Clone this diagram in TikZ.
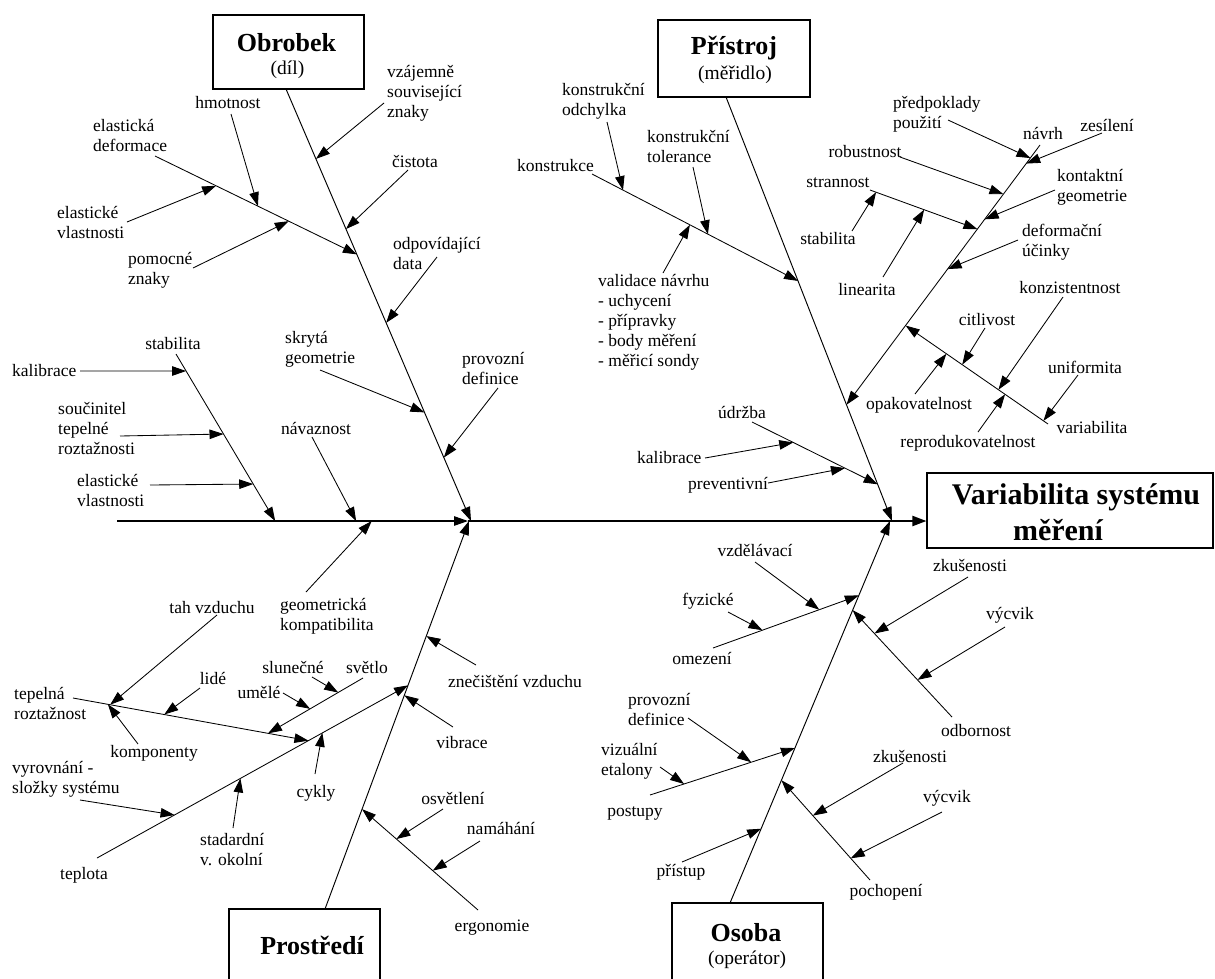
\documentclass[tikz,border=0pt]{standalone}
\usepackage{fontspec}
\setmainfont{Liberation Serif}
\usetikzlibrary{arrows.meta}
\tikzset{
 lbl/.style={font=\fontsize{17.5}{20}\selectfont, inner sep=0pt, align=left},
 arr/.style={line width=0.85pt, -{Triangle[length=14pt,width=9.5pt]}},
 bonearr/.style={line width=0.95pt, -{Triangle[length=14pt,width=9.5pt]}},
 box/.style={draw, line width=1.1pt, inner sep=0pt},
 ttl/.style={font=\fontsize{26}{30}\selectfont\bfseries, inner sep=0pt},
 subt/.style={font=\fontsize{19.5}{22}\selectfont, inner sep=0pt},
 bigttl/.style={font=\fontsize{30}{33}\selectfont\bfseries, inner sep=0pt},
}
\newcommand\twig[4]{%
  \coordinate (#1s) at (#2);
  \coordinate (#1e) at (intersection of #4 and #1s--#3);
  \draw[arr] (#1s) -- (#1e);}
\begin{document}
\begin{tikzpicture}[x=1pt,y=-1pt]
\useasboundingbox (0,0) rectangle (1215,978);
\fill[white] (0,0) rectangle (1215,978);

% ---- boxes
\node[box, minimum width=151pt, minimum height=74pt] (obrobek) at (288.5,52) {};
\node[ttl] (obrobekT) at (286.5,43) {Obrobek};
\node[subt] (obrobekS) at (287.5,70) {(díl)};
\node[box, minimum width=152pt, minimum height=77pt] (pristroj) at (734,58.5) {};
\node[ttl] (pristrojT) at (734,48) {Přístroj};
\node[subt] (pristrojS) at (735,75) {(měřidlo)};
\node[box, minimum width=151pt, minimum height=80pt] (prostredi) at (304.5,949) {};
\node[ttl] (prostrediT) at (312,945) {Prostředí};
\node[box, minimum width=151pt, minimum height=80pt] (osoba) at (747.5,943) {};
\node[ttl] (osobaT) at (746,933) {Osoba};
\node[subt] (osobaS) at (747,960) {(operátor)};
\node[box, minimum width=286pt, minimum height=75pt] (effect) at (1070,510.5) {};
\node[bigttl] (effT1) at (1076,497) {Variabilita systému};
\node[bigttl] (effT2) at (1058,530) {měření};

% ---- spine
\coordinate (sp0) at (117,521);
\coordinate (spm) at (468,521);
\coordinate (spe) at (effect.west |- sp0);
\draw[line width=1.1pt, -{Triangle[length=14pt,width=9.5pt]}] (sp0) -- (spm);
\draw[line width=2pt, -{Triangle[length=14pt,width=10pt]}] (spm) -- (spe);

% ---- main bones
\coordinate (O1) at (286,89);
\coordinate (O2) at (471,521);
\coordinate (P1) at (726,97);
\coordinate (P2) at (892,521);
\coordinate (E1) at (325,909);
\coordinate (E2) at (469,521);
\coordinate (S1) at (730,903);
\coordinate (S2) at (890,521);
\draw[bonearr] (O1) -- (O2);
\draw[bonearr] (P1) -- (P2);
\draw[bonearr] (E1) -- (E2);
\draw[bonearr] (S1) -- (S2);

% ---- Obrobek
\twig{vz}{384,103}{317,158}{O1--O2}
\twig{ci}{408,170}{347,228}{O1--O2}
\twig{ed}{155,156}{352,252}{O1--O2}
\twig{hm}{231,114}{257,203}{eds--ede}
\twig{ev}{127,222}{213,187}{eds--ede}
\twig{pz}{193,268}{287,222}{eds--ede}
\twig{od}{437,257}{386,323}{O1--O2}
\twig{sg}{320,370}{426,413}{O1--O2}
\twig{pd}{498,388}{445,456}{O1--O2}
\twig{na}{312,437}{354,517}{sp0--spe}
\twig{st}{176,354}{274,519}{sp0--spe}
\twig{ka}{80,371}{185,371}{sts--ste}
\twig{so}{120,436}{223,434}{sts--ste}
\twig{evb}{150,485}{252,484}{sts--ste}

\node[lbl,anchor=west] (Lvz) at (387,93) {vzájemně\\související\\znaky};
\node[lbl] (Lci) at (415,161) {čistota};
\node[lbl] (Lhm) at (228,103) {hmotnost};
\node[lbl,anchor=west] (Led) at (93,135) {elastická\\deformace};
\node[lbl,anchor=west] (Lev) at (57,222) {elastické\\vlastnosti};
\node[lbl,anchor=west] (Lpz) at (128,270) {pomocné\\znaky};
\node[lbl,anchor=west] (Lod) at (393,253) {odpovídající\\data};
\node[lbl,anchor=west] (Lsg) at (285,349) {skrytá\\geometrie};
\node[lbl,anchor=west] (Lpd) at (462,368) {provozní\\definice};
\node[lbl] (Lna) at (316,428) {návaznost};
\node[lbl] (Lst) at (173,344) {stabilita};
\node[lbl,anchor=west] (Lka) at (12,371) {kalibrace};
\node[lbl,anchor=west] (Lso) at (58,428) {součinitel\\tepelné\\roztažnosti};
\node[lbl,anchor=west] (Levb) at (77,490) {elastické\\vlastnosti};

% ---- Pristroj
\twig{ko}{592,174}{802,283}{P1--P2}
\twig{kod}{607,122}{623,190}{kos--koe}
\twig{kt}{693,167}{707,230}{kos--koe}
\twig{va}{663,273}{688,228}{kos--koe}
\twig{ud}{752,422}{875,483}{P1--P2}
\twig{kal}{705,458}{790,443}{uds--ude}
\twig{pr}{768,483}{840,469}{uds--ude}
\twig{nv}{1040,145}{850,400}{P1--P2}
\twig{pp}{948,120}{1028,157}{nvs--nve}
\twig{ze}{1102,133}{1035,160}{nvs--nve}
\twig{ro}{900,157}{1000,193}{nvs--nve}
\twig{kg}{1055,190}{995,215}{nvs--nve}
\twig{sn}{870,190}{977,229}{nvs--nve}
\twig{sb}{852,231}{873,197}{sns--sne}
\twig{li}{883,277}{922,213}{sns--sne}
\twig{df}{1018,240}{955,266}{nvs--nve}
\twig{vr}{1048,424}{912,330}{nvs--nve}
\twig{cit}{985,328}{965,360}{vrs--vre}
\twig{kz}{1063,297}{1003,383}{vrs--vre}
\twig{un}{1078,375}{1050,412}{vrs--vre}
\twig{op}{915,394}{943,358}{vrs--vre}
\twig{rp}{978,432}{1003,397}{vrs--vre}

\node[lbl,anchor=west] (Lkod) at (562,101) {konstrukční\\odchylka};
\node[lbl,anchor=west] (Lkt) at (647,146) {konstrukční\\tolerance};
\node[lbl,anchor=west] (Lko) at (517,166) {konstrukce};
\node[lbl,anchor=west] (Lva) at (598,322) {validace návrhu\\- uchycení\\- přípravky\\- body měření\\- měřicí sondy};
\node[lbl] (Lud) at (742,412) {údržba};
\node[lbl,anchor=west] (Lkal) at (637,458) {kalibrace};
\node[lbl,anchor=west] (Lpr) at (688,485) {preventivní};
\node[lbl,anchor=west] (Lpp) at (893,114) {předpoklady\\použití};
\node[lbl] (Lnv) at (1043,133) {návrh};
\node[lbl] (Lze) at (1107,125) {zesílení};
\node[lbl] (Lro) at (865,152) {robustnost};
\node[lbl,anchor=west] (Lkg) at (1057,187) {kontaktní\\geometrie};
\node[lbl] (Lsn) at (838,183) {strannost};
\node[lbl] (Lsb) at (828,239) {stabilita};
\node[lbl,anchor=west] (Ldf) at (1022,242) {deformační\\účinky};
\node[lbl] (Lli) at (867,290) {linearita};
\node[lbl] (Lkz) at (1070,288) {konzistentnost};
\node[lbl] (Lcit) at (987,320) {citlivost};
\node[lbl] (Lun) at (1085,367) {uniformita};
\node[lbl] (Lop) at (919,405) {opakovatelnost};
\node[lbl] (Lvr) at (1092,428) {variabilita};
\node[lbl] (Lrp) at (968,443) {reprodukovatelnost};

% ---- Prostredi
\twig{te}{97,858}{405,687}{E1--E2}
\twig{tr}{73,698}{305,740}{tes--tee}
\twig{tv}{217,615}{111,704}{trs--tre}
\twig{lid}{200,688}{169,711}{trs--tre}
\twig{kom}{138,744}{113,711}{trs--tre}
\twig{sv}{363,678}{272,731}{trs--tre}
\twig{sl}{312,677}{334,690}{svs--sve}
\twig{um}{283,693}{307,707}{svs--sve}
\twig{vy}{80,800}{175,815}{tes--tee}
\twig{sd}{233,828}{240,781}{tes--tee}
\twig{cy}{315,774}{322,735}{tes--tee}
\twig{zn}{476,665}{428,637}{E1--E2}
\twig{vi}{453,727}{407,697}{E1--E2}
\twig{er}{478,910}{362,809}{E1--E2}
\twig{os}{443,809}{398,838}{ers--ere}
\twig{nm}{480,841}{437,868}{ers--ere}
\twig{gk}{306,592}{367,526}{sp0--spe}

\node[lbl] (Ltv) at (212,608) {tah vzduchu};
\node[lbl,anchor=west] (Lgk) at (280,616) {geometrická\\kompatibilita};
\node[lbl,anchor=west] (Ltr) at (14,703) {tepelná\\roztažnost};
\node[lbl] (Llid) at (213,678) {lidé};
\node[lbl] (Lsl) at (293,667) {slunečné};
\node[lbl] (Lsv) at (367,667) {světlo};
\node[lbl] (Lum) at (259,692) {umělé};
\node[lbl] (Lkom) at (154,753) {komponenty};
\node[lbl,anchor=west] (Lvy) at (12,779) {vyrovnání -\\složky systému};
\node[lbl] (Lcy) at (316,793) {cykly};
\node[lbl,anchor=west] (Lsd) at (200,850) {stadardní\\v. okolní};
\node[lbl] (Lte) at (84,875) {teplota};
\node[lbl,anchor=west] (Lzn) at (448,681) {znečištění vzduchu};
\node[lbl] (Lvi) at (462,743) {vibrace};
\node[lbl] (Los) at (453,798) {osvětlení};
\node[lbl] (Lnm) at (501,828) {namáhání};
\node[lbl] (Ler) at (492,928) {ergonomie};

% ---- Osoba
\twig{om}{713,648}{860,595}{S1--S2}
\twig{vzd}{755,562}{817,608}{oms--ome}
\twig{fy}{728,612}{762,630}{oms--ome}
\twig{po}{650,795}{795,748}{S1--S2}
\twig{pv}{688,718}{748,760}{pos--poe}
\twig{ve}{660,767}{687,786}{pos--poe}
\twig{pt}{682,862}{758,830}{S1--S2}
\twig{ob}{952,717}{860,618}{S1--S2}
\twig{zk}{968,577}{880,630}{obs--obe}
\twig{vc}{1005,627}{922,677}{obs--obe}
\twig{pc}{870,880}{783,782}{S1--S2}
\twig{zkb}{903,763}{817,813}{pcs--pce}
\twig{vcb}{942,812}{857,855}{pcs--pce}

\node[lbl] (Lvzd) at (755,550) {vzdělávací};
\node[lbl] (Lfy) at (708,601) {fyzické};
\node[lbl] (Lom) at (702,658) {omezení};
\node[lbl,anchor=west] (Lpv) at (628,709) {provozní\\definice};
\node[lbl,anchor=west] (Lve) at (601,761) {vizuální\\etalony};
\node[lbl] (Lpo) at (635,813) {postupy};
\node[lbl] (Lpt) at (681,872) {přístup};
\node[lbl] (Lzk) at (970,565) {zkušenosti};
\node[lbl] (Lvc) at (1010,615) {výcvik};
\node[lbl] (Lob) at (976,730) {odbornost};
\node[lbl] (Lzkb) at (910,756) {zkušenosti};
\node[lbl] (Lvcb) at (947,798) {výcvik};
\node[lbl] (Lpc) at (886,892) {pochopení};
\end{tikzpicture}
\end{document}
